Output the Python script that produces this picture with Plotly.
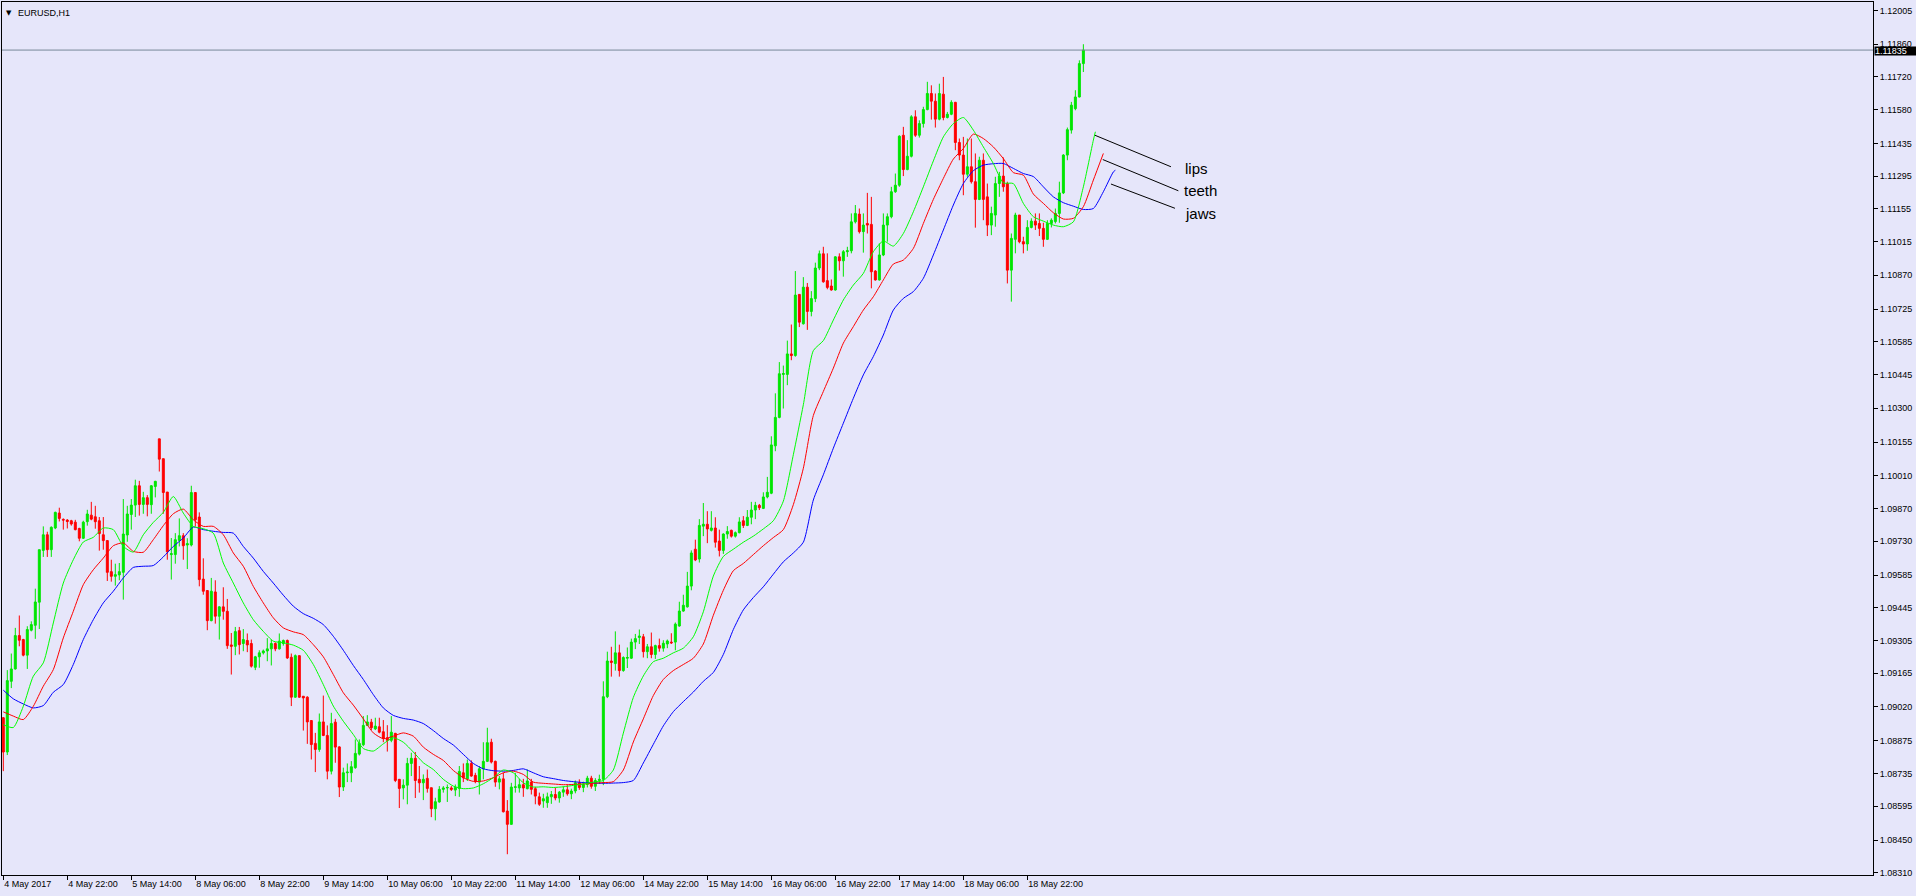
import plotly.graph_objects as go

# ---------------- data ----------------
symbol = "EURUSD,H1"

time_labels = ["4 May 2017", "4 May 22:00", "5 May 14:00", "8 May 06:00", "8 May 22:00",
               "9 May 14:00", "10 May 06:00", "10 May 22:00", "11 May 14:00", "12 May 06:00",
               "14 May 22:00", "15 May 14:00", "16 May 06:00", "16 May 22:00", "17 May 14:00",
               "18 May 06:00", "18 May 22:00"]
bars_per_label = 16

price_labels = ["1.12005", "1.11860", "1.11720", "1.11580", "1.11435", "1.11295", "1.11155",
                "1.11015", "1.10870", "1.10725", "1.10585", "1.10445", "1.10300", "1.10155",
                "1.10010", "1.09870", "1.09730", "1.09585", "1.09445", "1.09305", "1.09165",
                "1.09020", "1.08875", "1.08735", "1.08595", "1.08450", "1.08310"]

open_ = [
    1.08974, 1.08827, 1.09130, 1.09183, 1.09326, 1.09309, 1.09242, 1.09349, 1.09370, 1.09469,
    1.09691, 1.09758, 1.09694, 1.09787, 1.09851, 1.09824, 1.09821, 1.09818, 1.09812, 1.09785,
    1.09743, 1.09814, 1.09842, 1.09835, 1.09818, 1.09758, 1.09733, 1.09600, 1.09580, 1.09586,
    1.09597, 1.09757, 1.09845, 1.09885, 1.09968, 1.09888, 1.09917, 1.09887, 1.09965, 1.10169,
    1.10084, 1.09941, 1.09673, 1.09673, 1.09734, 1.09754, 1.09714, 1.09714, 1.09939, 1.09834,
    1.09568, 1.09519, 1.09390, 1.09513, 1.09409, 1.09449, 1.09430, 1.09286, 1.09280, 1.09347,
    1.09292, 1.09305, 1.09292, 1.09190, 1.09235, 1.09252, 1.09260, 1.09269, 1.09292, 1.09269,
    1.09292, 1.09305, 1.09233, 1.09062, 1.09240, 1.09066, 1.09062, 1.08962, 1.08864, 1.08838,
    1.08956, 1.08898, 1.08745, 1.08955, 1.08849, 1.08677, 1.08738, 1.08738, 1.08760, 1.08818,
    1.08858, 1.08941, 1.08955, 1.08926, 1.08935, 1.08914, 1.08888, 1.08877, 1.08907, 1.08710,
    1.08673, 1.08685, 1.08778, 1.08800, 1.08710, 1.08695, 1.08714, 1.08674, 1.08584, 1.08613,
    1.08667, 1.08673, 1.08673, 1.08664, 1.08671, 1.08738, 1.08712, 1.08778, 1.08727, 1.08698,
    1.08755, 1.08787, 1.08869, 1.08787, 1.08698, 1.08712, 1.08574, 1.08517, 1.08675, 1.08673,
    1.08687, 1.08670, 1.08698, 1.08670, 1.08635, 1.08617, 1.08610, 1.08635, 1.08645, 1.08630,
    1.08655, 1.08665, 1.08648, 1.08660, 1.08695, 1.08675, 1.08688, 1.08715, 1.08680, 1.08705,
    1.08710, 1.09064, 1.09217, 1.09206, 1.09252, 1.09176, 1.09229, 1.09229, 1.09298, 1.09318,
    1.09321, 1.09257, 1.09278, 1.09245, 1.09283, 1.09272, 1.09290, 1.09298, 1.09298, 1.09367,
    1.09431, 1.09449, 1.09538, 1.09696, 1.09654, 1.09795, 1.09803, 1.09777, 1.09787, 1.09731,
    1.09691, 1.09761, 1.09777, 1.09752, 1.09767, 1.09818, 1.09798, 1.09833, 1.09864, 1.09884,
    1.09871, 1.09920, 1.09936, 1.10139, 1.10261, 1.10445, 1.10445, 1.10533, 1.10526, 1.10788,
    1.10662, 1.10819, 1.10715, 1.10770, 1.10901, 1.10962, 1.10847, 1.10824, 1.10807, 1.10949,
    1.10932, 1.10971, 1.10975, 1.11099, 1.11132, 1.11057, 1.11092, 1.11088, 1.10888, 1.10850,
    1.10957, 1.11085, 1.11121, 1.11228, 1.11256, 1.11470, 1.11323, 1.11380, 1.11549, 1.11470,
    1.11520, 1.11580, 1.11649, 1.11616, 1.11539, 1.11646, 1.11546, 1.11560, 1.11611, 1.11439,
    1.11385, 1.11303, 1.11335, 1.11271, 1.11195, 1.11363, 1.11206, 1.11085, 1.11128, 1.11263,
    1.11295, 1.11263, 1.10892, 1.11024, 1.11128, 1.11014, 1.11004, 1.11075, 1.11102, 1.11092,
    1.11071, 1.11024, 1.11092, 1.11100, 1.11135, 1.11223, 1.11385, 1.11492, 1.11584, 1.11634,
    1.11777]

high = [
    1.08976, 1.09178, 1.09249, 1.09359, 1.09412, 1.09312, 1.09366, 1.09387, 1.09527, 1.09694,
    1.09794, 1.09771, 1.09794, 1.09857, 1.09874, 1.09828, 1.09825, 1.09822, 1.09822, 1.09788,
    1.09818, 1.09865, 1.09899, 1.09882, 1.09834, 1.09834, 1.09735, 1.09651, 1.09634, 1.09637,
    1.09911, 1.09882, 1.09911, 1.09994, 1.09989, 1.09942, 1.09928, 1.09971, 1.09989, 1.10169,
    1.10084, 1.09941, 1.09744, 1.09765, 1.09828, 1.09765, 1.09743, 1.09968, 1.09939, 1.09854,
    1.09657, 1.09519, 1.09573, 1.09563, 1.09452, 1.09533, 1.09483, 1.09337, 1.09363, 1.09363,
    1.09354, 1.09335, 1.09309, 1.09239, 1.09263, 1.09266, 1.09315, 1.09309, 1.09297, 1.09335,
    1.09309, 1.09309, 1.09249, 1.09245, 1.09240, 1.09066, 1.09066, 1.08962, 1.08909, 1.08992,
    1.09069, 1.08941, 1.08995, 1.08969, 1.08852, 1.08760, 1.08778, 1.08788, 1.08881, 1.08881,
    1.08981, 1.08985, 1.08969, 1.08974, 1.08974, 1.08964, 1.08942, 1.08981, 1.08909, 1.08710,
    1.08710, 1.08802, 1.08824, 1.08827, 1.08767, 1.08731, 1.08752, 1.08674, 1.08631, 1.08681,
    1.08681, 1.08688, 1.08681, 1.08688, 1.08767, 1.08778, 1.08795, 1.08791, 1.08738, 1.08767,
    1.08869, 1.08931, 1.08884, 1.08790, 1.08724, 1.08738, 1.08621, 1.08695, 1.08738, 1.08712,
    1.08712, 1.08752, 1.08712, 1.08678, 1.08653, 1.08648, 1.08653, 1.08660, 1.08675, 1.08660,
    1.08680, 1.08685, 1.08670, 1.08705, 1.08710, 1.08700, 1.08725, 1.08725, 1.08715, 1.08730,
    1.09130, 1.09257, 1.09278, 1.09344, 1.09287, 1.09237, 1.09275, 1.09313, 1.09333, 1.09352,
    1.09333, 1.09290, 1.09339, 1.09287, 1.09313, 1.09306, 1.09309, 1.09336, 1.09382, 1.09471,
    1.09501, 1.09599, 1.09691, 1.09737, 1.09825, 1.09894, 1.09859, 1.09859, 1.09833, 1.09780,
    1.09764, 1.09795, 1.09780, 1.09772, 1.09833, 1.09838, 1.09864, 1.09899, 1.09899, 1.09890,
    1.09940, 1.10006, 1.10180, 1.10364, 1.10498, 1.10483, 1.10590, 1.10659, 1.10888, 1.10788,
    1.10862, 1.10837, 1.10802, 1.10924, 1.10976, 1.10992, 1.10964, 1.10852, 1.10952, 1.10964,
    1.10978, 1.10992, 1.11135, 1.11171, 1.11156, 1.11135, 1.11223, 1.11206, 1.10892, 1.11007,
    1.11135, 1.11135, 1.11249, 1.11306, 1.11470, 1.11506, 1.11449, 1.11556, 1.11577, 1.11534,
    1.11592, 1.11699, 1.11684, 1.11649, 1.11691, 1.11720, 1.11570, 1.11620, 1.11613, 1.11456,
    1.11463, 1.11456, 1.11456, 1.11392, 1.11378, 1.11392, 1.11263, 1.11164, 1.11292, 1.11313,
    1.11375, 1.11271, 1.11049, 1.11138, 1.11128, 1.11035, 1.11106, 1.11114, 1.11135, 1.11135,
    1.11095, 1.11106, 1.11114, 1.11156, 1.11271, 1.11389, 1.11503, 1.11613, 1.11663, 1.11791,
    1.11860]

low = [
    1.08745, 1.08814, 1.09101, 1.09180, 1.09280, 1.09237, 1.09183, 1.09344, 1.09312, 1.09354,
    1.09663, 1.09663, 1.09663, 1.09782, 1.09815, 1.09780, 1.09785, 1.09797, 1.09777, 1.09730,
    1.09740, 1.09797, 1.09820, 1.09784, 1.09690, 1.09694, 1.09560, 1.09557, 1.09540, 1.09563,
    1.09480, 1.09728, 1.09780, 1.09834, 1.09840, 1.09848, 1.09837, 1.09848, 1.09918, 1.10029,
    1.09848, 1.09651, 1.09566, 1.09634, 1.09708, 1.09651, 1.09611, 1.09708, 1.09794, 1.09537,
    1.09501, 1.09349, 1.09387, 1.09377, 1.09309, 1.09394, 1.09269, 1.09159, 1.09242, 1.09245,
    1.09259, 1.09255, 1.09189, 1.09178, 1.09188, 1.09245, 1.09216, 1.09198, 1.09259, 1.09266,
    1.09283, 1.09226, 1.09024, 1.09059, 1.09059, 1.08919, 1.08862, 1.08795, 1.08741, 1.08828,
    1.08895, 1.08710, 1.08731, 1.08781, 1.08634, 1.08660, 1.08698, 1.08698, 1.08755, 1.08812,
    1.08852, 1.08938, 1.08921, 1.08921, 1.08907, 1.08869, 1.08829, 1.08869, 1.08698, 1.08587,
    1.08624, 1.08603, 1.08724, 1.08630, 1.08653, 1.08621, 1.08653, 1.08548, 1.08534, 1.08610,
    1.08653, 1.08613, 1.08660, 1.08638, 1.08635, 1.08698, 1.08703, 1.08721, 1.08693, 1.08645,
    1.08710, 1.08784, 1.08778, 1.08678, 1.08667, 1.08568, 1.08389, 1.08516, 1.08653, 1.08653,
    1.08635, 1.08667, 1.08645, 1.08603, 1.08596, 1.08588, 1.08588, 1.08605, 1.08620, 1.08610,
    1.08635, 1.08640, 1.08625, 1.08650, 1.08665, 1.08655, 1.08675, 1.08670, 1.08660, 1.08690,
    1.08685, 1.09058, 1.09150, 1.09176, 1.09150, 1.09171, 1.09187, 1.09226, 1.09268, 1.09290,
    1.09232, 1.09229, 1.09229, 1.09226, 1.09257, 1.09257, 1.09272, 1.09290, 1.09263, 1.09364,
    1.09428, 1.09446, 1.09520, 1.09645, 1.09639, 1.09752, 1.09722, 1.09772, 1.09703, 1.09665,
    1.09676, 1.09741, 1.09746, 1.09746, 1.09764, 1.09787, 1.09795, 1.09803, 1.09825, 1.09864,
    1.09868, 1.09914, 1.09932, 1.10116, 1.10257, 1.10299, 1.10399, 1.10506, 1.10521, 1.10648,
    1.10659, 1.10636, 1.10694, 1.10755, 1.10892, 1.10838, 1.10810, 1.10804, 1.10804, 1.10890,
    1.10864, 1.10949, 1.10964, 1.11092, 1.11049, 1.10967, 1.11049, 1.10814, 1.10847, 1.10847,
    1.10952, 1.11014, 1.11114, 1.11223, 1.11249, 1.11295, 1.11320, 1.11375, 1.11463, 1.11460,
    1.11503, 1.11577, 1.11537, 1.11503, 1.11534, 1.11534, 1.11542, 1.11556, 1.11406, 1.11363,
    1.11213, 1.11292, 1.11263, 1.11074, 1.11192, 1.11106, 1.11038, 1.11042, 1.11078, 1.11206,
    1.11228, 1.10835, 1.10757, 1.10964, 1.11007, 1.10964, 1.10975, 1.11071, 1.11064, 1.11038,
    1.10992, 1.11021, 1.11075, 1.11092, 1.11095, 1.11218, 1.11363, 1.11477, 1.11577, 1.11632,
    1.11741]

close = [
    1.08827, 1.09133, 1.09183, 1.09326, 1.09306, 1.09242, 1.09352, 1.09373, 1.09470, 1.09694,
    1.09758, 1.09694, 1.09790, 1.09854, 1.09828, 1.09821, 1.09815, 1.09804, 1.09780, 1.09743,
    1.09812, 1.09847, 1.09825, 1.09814, 1.09763, 1.09733, 1.09597, 1.09580, 1.09587, 1.09600,
    1.09761, 1.09847, 1.09885, 1.09968, 1.09888, 1.09917, 1.09888, 1.09968, 1.09987, 1.10082,
    1.09939, 1.09685, 1.09677, 1.09737, 1.09754, 1.09711, 1.09720, 1.09939, 1.09822, 1.09566,
    1.09516, 1.09390, 1.09516, 1.09409, 1.09449, 1.09430, 1.09283, 1.09280, 1.09343, 1.09287,
    1.09309, 1.09286, 1.09195, 1.09235, 1.09252, 1.09260, 1.09269, 1.09292, 1.09269, 1.09302,
    1.09305, 1.09230, 1.09062, 1.09240, 1.09062, 1.09059, 1.08956, 1.08859, 1.08838, 1.08956,
    1.08898, 1.08745, 1.08949, 1.08848, 1.08677, 1.08738, 1.08741, 1.08764, 1.08821, 1.08864,
    1.08941, 1.08956, 1.08931, 1.08938, 1.08912, 1.08885, 1.08877, 1.08912, 1.08705, 1.08671,
    1.08685, 1.08778, 1.08800, 1.08705, 1.08695, 1.08710, 1.08671, 1.08584, 1.08614, 1.08667,
    1.08673, 1.08675, 1.08667, 1.08675, 1.08744, 1.08717, 1.08778, 1.08724, 1.08700, 1.08755,
    1.08787, 1.08867, 1.08784, 1.08698, 1.08712, 1.08571, 1.08517, 1.08677, 1.08678, 1.08687,
    1.08673, 1.08703, 1.08667, 1.08638, 1.08603, 1.08627, 1.08635, 1.08645, 1.08630, 1.08655,
    1.08665, 1.08648, 1.08660, 1.08695, 1.08675, 1.08688, 1.08715, 1.08680, 1.08705, 1.08710,
    1.09064, 1.09217, 1.09211, 1.09252, 1.09176, 1.09232, 1.09232, 1.09298, 1.09313, 1.09324,
    1.09257, 1.09278, 1.09245, 1.09283, 1.09272, 1.09293, 1.09303, 1.09295, 1.09375, 1.09431,
    1.09456, 1.09538, 1.09680, 1.09650, 1.09798, 1.09803, 1.09783, 1.09787, 1.09726, 1.09691,
    1.09761, 1.09772, 1.09752, 1.09767, 1.09813, 1.09798, 1.09833, 1.09864, 1.09884, 1.09874,
    1.09920, 1.09940, 1.10143, 1.10261, 1.10448, 1.10449, 1.10533, 1.10526, 1.10785, 1.10669,
    1.10819, 1.10715, 1.10770, 1.10901, 1.10962, 1.10842, 1.10818, 1.10807, 1.10949, 1.10932,
    1.10971, 1.10975, 1.11099, 1.11135, 1.11057, 1.11085, 1.11085, 1.10885, 1.10850, 1.10957,
    1.11085, 1.11121, 1.11228, 1.11256, 1.11466, 1.11323, 1.11380, 1.11549, 1.11470, 1.11520,
    1.11580, 1.11649, 1.11616, 1.11539, 1.11649, 1.11546, 1.11560, 1.11611, 1.11439, 1.11385,
    1.11303, 1.11335, 1.11271, 1.11195, 1.11363, 1.11195, 1.11085, 1.11135, 1.11263, 1.11295,
    1.11249, 1.10892, 1.11028, 1.11128, 1.11014, 1.11004, 1.11075, 1.11102, 1.11085, 1.11071,
    1.11024, 1.11092, 1.11106, 1.11135, 1.11223, 1.11385, 1.11494, 1.11599, 1.11634, 1.11777,
    1.11835]

# Alligator lines, sampled every 2.5 bars from bar 0; each line then ends
# at (last bar + its forward shift) with the end value read from the chart.
line_step = 2.5
alligator_shift = {"lips": 3, "teeth": 5, "jaws": 8}
lips = [
    1.08944, 1.08932, 1.09023, 1.09152, 1.09209, 1.09380, 1.09551, 1.09651, 1.09727, 1.09747,
    1.09787, 1.09780, 1.09708, 1.09684, 1.09758, 1.09811, 1.09854, 1.09922, 1.09851, 1.09794,
    1.09784, 1.09765, 1.09637, 1.09551, 1.09466, 1.09394, 1.09344, 1.09302,
    1.09295, 1.09285, 1.09263, 1.09202, 1.09116, 1.09024, 1.08959, 1.08902, 1.08842, 1.08831,
    1.08862, 1.08888, 1.08869, 1.08827, 1.08781, 1.08752, 1.08710, 1.08681, 1.08670, 1.08673,
    1.08691, 1.08717, 1.08750, 1.08738, 1.08695, 1.08677, 1.08678,
    1.08675, 1.08678, 1.08684, 1.08690, 1.08698, 1.08705, 1.08750,
    1.08908, 1.09061, 1.09153, 1.09214, 1.09229, 1.09252, 1.09272, 1.09321, 1.09428, 1.09581,
    1.09665, 1.09696, 1.09726, 1.09752, 1.09783, 1.09818, 1.09902, 1.10101, 1.10315,
    1.10547, 1.10590, 1.10678, 1.10764, 1.10828, 1.10878, 1.10971, 1.11017, 1.10995, 1.11049,
    1.11142, 1.11249, 1.11360, 1.11463, 1.11520, 1.11546, 1.11492, 1.11420, 1.11349, 1.11266,
    1.11263, 1.11178, 1.11121, 1.11102, 1.11085, 1.11078, 1.11099, 1.11249, 1.11449]
teeth = [
    1.08999, 1.08981, 1.08966, 1.09023, 1.09109, 1.09180, 1.09316, 1.09430, 1.09544, 1.09608,
    1.09658, 1.09711, 1.09723, 1.09687, 1.09683, 1.09737, 1.09797, 1.09848, 1.09868, 1.09822,
    1.09794, 1.09794, 1.09758, 1.09680, 1.09623, 1.09537, 1.09466, 1.09402,
    1.09359, 1.09342, 1.09330, 1.09287, 1.09235, 1.09159, 1.09081, 1.09028, 1.08969, 1.08909,
    1.08884, 1.08895, 1.08909, 1.08895, 1.08848, 1.08817, 1.08791, 1.08748, 1.08717, 1.08701,
    1.08703, 1.08717, 1.08738, 1.08745, 1.08731, 1.08698, 1.08693,
    1.08690, 1.08687, 1.08688, 1.08690, 1.08693, 1.08696, 1.08700,
    1.08750, 1.08870, 1.08969, 1.09069, 1.09138, 1.09176, 1.09202, 1.09229, 1.09290, 1.09413,
    1.09520, 1.09604, 1.09635, 1.09673, 1.09711, 1.09746, 1.09780, 1.09887, 1.10043,
    1.10269, 1.10372, 1.10472, 1.10579, 1.10650, 1.10721, 1.10778, 1.10850, 1.10918, 1.10935,
    1.10985, 1.11092, 1.11195, 1.11285, 1.11368, 1.11413, 1.11475, 1.11456, 1.11420, 1.11370,
    1.11310, 1.11299, 1.11218, 1.11178, 1.11138, 1.11111, 1.11114, 1.11164, 1.11278]
jaws = [
    1.09092, 1.09055, 1.09033, 1.09016, 1.09026, 1.09083, 1.09116, 1.09202, 1.09309, 1.09394,
    1.09466, 1.09516, 1.09573, 1.09618, 1.09623, 1.09626, 1.09663, 1.09708, 1.09744, 1.09791,
    1.09780, 1.09773, 1.09768, 1.09765, 1.09708, 1.09658, 1.09601, 1.09551,
    1.09499, 1.09452, 1.09420, 1.09400, 1.09373, 1.09323, 1.09263, 1.09198, 1.09138, 1.09073,
    1.09016, 1.08984, 1.08971, 1.08964, 1.08949, 1.08919, 1.08885, 1.08857, 1.08817, 1.08778,
    1.08755, 1.08747, 1.08745, 1.08748, 1.08755, 1.08738, 1.08721,
    1.08713, 1.08705, 1.08700, 1.08696, 1.08694, 1.08693, 1.08694,
    1.08696, 1.08705, 1.08780, 1.08860, 1.08939, 1.09000, 1.09043, 1.09084, 1.09130, 1.09168,
    1.09245, 1.09352, 1.09436, 1.09489, 1.09535, 1.09589, 1.09642, 1.09680, 1.09726,
    1.09907, 1.10015, 1.10129, 1.10236, 1.10343, 1.10443, 1.10522, 1.10614, 1.10721, 1.10771,
    1.10800, 1.10857, 1.10957, 1.11064, 1.11171, 1.11263, 1.11318, 1.11342, 1.11348, 1.11349,
    1.11328, 1.11306, 1.11293, 1.11249, 1.11206, 1.11181, 1.11166, 1.11152, 1.11156, 1.11228,
    1.11313]
line_end_value = {"lips": 1.11485, "teeth": 1.11392, "jaws": 1.11320}

# ---------------- styling ----------------
BG = "#E6E6FA"
BULL = "#00E600"
BEAR = "#FF0000"
LIPS_C = "#00FF00"
TEETH_C = "#FF0000"
JAWS_C = "#0000FF"
FONT = "Liberation Sans, Arial, sans-serif"

bar_index = list(range(len(close)))
last_bar = bar_index[-1]

fig = go.Figure()

fig.add_trace(go.Candlestick(
    x=bar_index, open=open_, high=high, low=low, close=close,
    increasing=dict(line=dict(color=BULL, width=1), fillcolor=BULL),
    decreasing=dict(line=dict(color=BEAR, width=1), fillcolor=BEAR),
    whiskerwidth=0, showlegend=False, hoverinfo="skip"))

for name, vals, col in [("jaws", jaws, JAWS_C), ("teeth", teeth, TEETH_C), ("lips", lips, LIPS_C)]:
    xs = [k * line_step for k in range(len(vals))]
    ys = list(vals)
    x_end = last_bar + alligator_shift[name]
    xs.append(x_end)
    ys.append(line_end_value[name])
    fig.add_trace(go.Scatter(x=xs, y=ys, mode="lines", name=name,
                             line=dict(color=col, width=1, shape="spline", smoothing=0.6),
                             showlegend=False, hoverinfo="skip"))

last_price = close[-1]

# bid line
fig.add_hline(y=last_price, line=dict(color="#778899", width=1))

# bid price box on the price scale
fig.add_annotation(xref="paper", yref="y", x=1, y=last_price, xanchor="left", yanchor="middle",
                   xshift=1, yshift=-1, text=f"{last_price:.5f}", showarrow=False,
                   font=dict(family=FONT, size=9, color="white"), bgcolor="black",
                   borderpad=0, width=41, height=8, align="left")

# symbol caption
fig.add_annotation(xref="paper", yref="paper", x=0, y=1, xanchor="left", yanchor="top",
                   xshift=2, yshift=-5, text="\u25BC", showarrow=False,
                   font=dict(family="DejaVu Sans", size=7, color="black"))
fig.add_annotation(xref="paper", yref="paper", x=0, y=1, xanchor="left", yanchor="top",
                   xshift=14, yshift=-4, text=symbol, showarrow=False,
                   font=dict(family=FONT, size=9, color="black"))

# Alligator labels with leader lines (chart drawing objects)
leaders = [
    ("lips", 272.9, 1.11470, 291.9, 1.11335, 294.9, 1.11329),
    ("teeth", 274.85, 1.11366, 293.75, 1.11232, 294.6, 1.11235),
    ("jaws", 276.9, 1.11261, 292.9, 1.11157, 294.9, 1.11136),
]
for txt, x0, y0, x1, y1, tx, ty in leaders:
    fig.add_shape(type="line", xref="x", yref="y", x0=x0, y0=y0, x1=x1, y1=y1,
                  line=dict(color="black", width=1))
    fig.add_annotation(xref="x", yref="y", x=tx, y=ty, xanchor="left", yanchor="middle",
                       text=txt, showarrow=False,
                       font=dict(family=FONT, size=15, color="black"))

fig.update_layout(
    width=1916, height=896,
    margin=dict(l=2, r=43, t=2, b=21, pad=0, autoexpand=False),
    paper_bgcolor=BG, plot_bgcolor=BG,
    showlegend=False, hovermode=False,
    font=dict(family=FONT, size=9, color="black"),
    xaxis=dict(range=[-0.325, 467.4], showgrid=False, zeroline=False,
               rangeslider=dict(visible=False),
               tickmode="array",
               tickvals=[k * bars_per_label for k in range(len(time_labels))],
               ticktext=time_labels, ticks="outside", ticklen=4, tickcolor="black",
               ticklabelposition="outside right",
               tickfont=dict(family=FONT, size=9, color="black"),
               showline=True, linecolor="black", linewidth=1, mirror=True),
    yaxis=dict(range=[1.08300, 1.12041], side="right", showgrid=False, zeroline=False,
               tickmode="array", tickvals=[float(s) for s in price_labels], ticktext=price_labels,
               ticks="outside", ticklen=4, tickcolor="black",
               tickfont=dict(family=FONT, size=9, color="black"),
               showline=True, linecolor="black", linewidth=1, mirror=True),
)

fig.write_html("out.html", config={"displayModeBar": False},
               post_script="document.body.style.margin='0';document.body.style.overflow='hidden';")
